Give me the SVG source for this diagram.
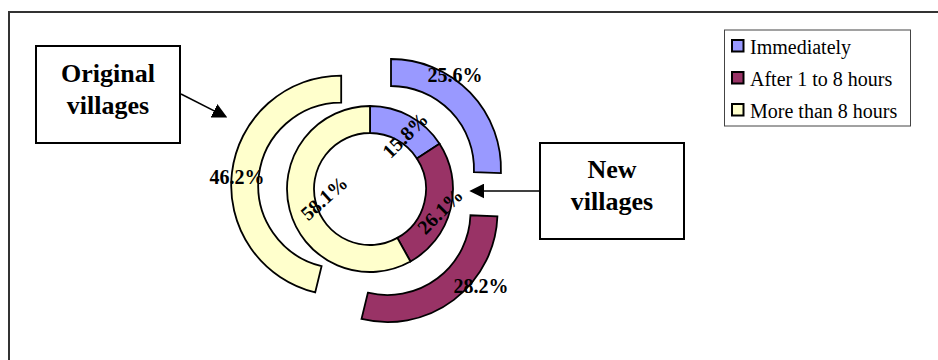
<svg xmlns="http://www.w3.org/2000/svg" width="938" height="360" viewBox="0 0 938 360">
<style>
.seg{stroke:#000;stroke-width:1.8;stroke-linejoin:miter}
.blue{fill:#9999FF}.red{fill:#993366}.yel{fill:#FFFFCC}
.lbl{font-weight:bold;font-size:20px;fill:#000}
.box{fill:#fff;stroke:#000;stroke-width:2}
.boxt{font-weight:bold;font-size:26px;fill:#000;text-anchor:middle}
.leg{font-size:20px;fill:#000}
.sw{stroke:#000;stroke-width:2}
.conn{stroke:#000;stroke-width:1.5;fill:none}
</style>
<defs>
<marker id="ah" viewBox="0 0 15 15" markerWidth="15" markerHeight="15" refX="13" refY="7.5" orient="auto" markerUnits="userSpaceOnUse">
<path d="M0,0 L15,7.5 L0,15 Z" fill="#000"/>
</marker>
</defs>
<rect x="0" y="0" width="938" height="360" fill="#fff"/>
<rect x="9" y="12" width="1000" height="400" fill="none" stroke="#333" stroke-width="2"/>

<g id="outer-ring">
<path class="seg blue" d="M391,59 A110,110 0 0 1 500.92,173.15 L473.94,172.13 A83,83 0 0 0 391,86 Z"/>
<path class="seg red" d="M497.42,216.25 A110,110 0 0 1 361.49,318.98 L367.87,292.74 A83,83 0 0 0 470.44,215.23 Z"/>
<path class="seg yel" d="M315.19,292.43 A110,110 0 0 1 341.2,75.55 L341.2,102.55 A83,83 0 0 0 321.57,266.19 Z"/>
</g>
<g id="inner-ring">
<path class="seg blue" d="M370,106 A83,83 0 0 1 439.53,143.67 L416.91,158.41 A56,56 0 0 0 370,133 Z"/>
<path class="seg red" d="M439.53,143.67 A83,83 0 0 1 410.45,261.48 L397.29,237.9 A56,56 0 0 0 416.91,158.41 Z"/>
<path class="seg yel" d="M410.45,261.48 A83,83 0 1 1 370,106 L370,133 A56,56 0 1 0 397.29,237.9 Z"/>
</g>
<g id="labels" font-family="Liberation Serif, serif">
<text class="lbl" x="455" y="82" text-anchor="middle">25.6%</text>
<text class="lbl" x="481" y="293" text-anchor="middle">28.2%</text>
<text class="lbl" x="237" y="184" text-anchor="middle">46.2%</text>
<text class="lbl" text-anchor="middle" transform="translate(405,135) rotate(-45)" y="7">15.8%</text>
<text class="lbl" text-anchor="middle" transform="translate(440,211) rotate(-45)" y="7">26.1%</text>
<text class="lbl" text-anchor="middle" transform="translate(324,198) rotate(-42)" y="7">58.1%</text>
</g>

<g id="connectors">
<line class="conn" x1="181" y1="94" x2="225.5" y2="116.7" marker-end="url(#ah)"/>
<line class="conn" x1="540" y1="191" x2="471.3" y2="191" marker-end="url(#ah)"/>
</g>

<g id="node-original" font-family="Liberation Serif, serif">
<rect class="box" x="36" y="46" width="144" height="97"/>
<text class="boxt" x="108" y="82">Original</text>
<text class="boxt" x="108" y="113.5">villages</text>
</g>
<g id="node-new" font-family="Liberation Serif, serif">
<rect class="box" x="540" y="143" width="144" height="96"/>
<text class="boxt" x="612" y="178">New</text>
<text class="boxt" x="612" y="210">villages</text>
</g>

<g id="legend" font-family="Liberation Serif, serif">
<rect x="724.5" y="30" width="186" height="96" fill="#fff" stroke="#444" stroke-width="1"/>
<rect class="sw blue" x="732" y="40" width="11.5" height="11.5"/>
<text class="leg" x="750" y="53.5">Immediately</text>
<rect class="sw red" x="732" y="72" width="11.5" height="11.5"/>
<text class="leg" x="750" y="86">After 1 to 8 hours</text>
<rect class="sw yel" x="732" y="104" width="11.5" height="11.5"/>
<text class="leg" x="750" y="118">More than 8 hours</text>
</g>
</svg>
